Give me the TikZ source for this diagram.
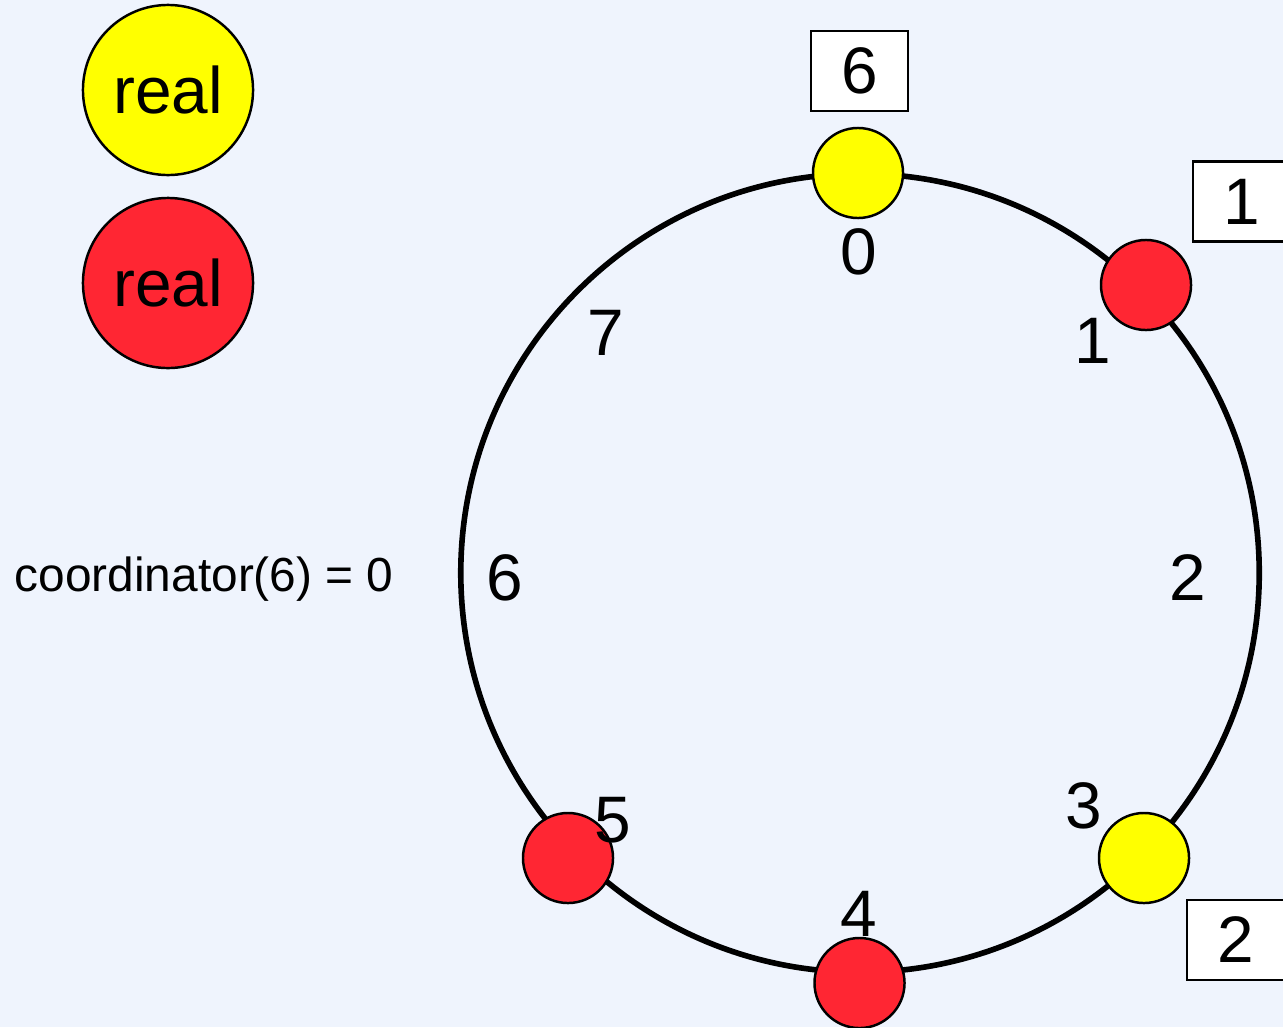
\documentclass[tikz,border=0pt]{standalone}
\usepackage{fontspec}
\setmainfont{Liberation Sans}
\definecolor{bg}{HTML}{EFF4FD}
\definecolor{nred}{HTML}{FF2633}
\definecolor{nyel}{HTML}{FFFF00}
\begin{document}
\begin{tikzpicture}[x=0.01cm,y=-0.01cm,
  ring/.style={line width=1.6pt},
  pnode/.style={circle,draw=black,line width=0.7pt,minimum size=0.9cm,inner sep=0pt},
  legend/.style={circle,draw=black,line width=0.7pt,minimum size=1.7cm,inner sep=0pt,font=\fontsize{18.7}{20}\selectfont},
  idbox/.style={rectangle,draw=black,fill=white,line width=0.7pt,minimum width=0.97cm,minimum height=0.8cm,inner sep=0pt,font=\fontsize{18.7}{20}\selectfont},
  lbl/.style={inner sep=0pt,font=\fontsize{18.7}{20}\selectfont}]
\useasboundingbox (0,0) rectangle (1283,1027);
\clip (0,0) rectangle (1283,1027);
\fill[bg] (0,0) rectangle (1283,1027);
% ring
\coordinate (c) at (860,573);
\draw[ring] (c) circle[radius=3.99cm];
% nodes on ring
\node[pnode,fill=nyel] (n0) at (858,173) {};
\node[pnode,fill=nred] (n1) at (1146,285) {};
\node[pnode,fill=nyel] (n3) at (1144,858) {};
\node[pnode,fill=nred] (n4) at (859.5,983) {};
\node[pnode,fill=nred] (n5) at (568,858) {};
% ring labels
\node[lbl] (l0) at (859,252) {0};
\node[lbl] (l1) at (1093,341) {1};
\node[lbl] (l2) at (1188,578) {2};
\node[lbl] (l3) at (1084,806) {3};
\node[lbl] (l4) at (859,914) {4};
\node[lbl] (l5) at (613,820) {5};
\node[lbl] (l6) at (505,578) {6};
\node[lbl] (l7) at (606,333) {7};
% id boxes
\node[idbox] (b6) at (859.5,71) {6};
\node[idbox] (b1) at (1241.5,201.5) {1};
\node[idbox] (b2) at (1235.5,940) {2};
% legend
\node[legend,fill=nyel] (ly) at (168,90) {real};
\node[legend,fill=nred] (lr) at (168,283) {real};
% coordinator text
\node[inner sep=0pt,anchor=west,font=\fontsize{13.6}{15}\selectfont] (coord) at (14,579) {coordinator(6) = 0};
\end{tikzpicture}
\end{document}
